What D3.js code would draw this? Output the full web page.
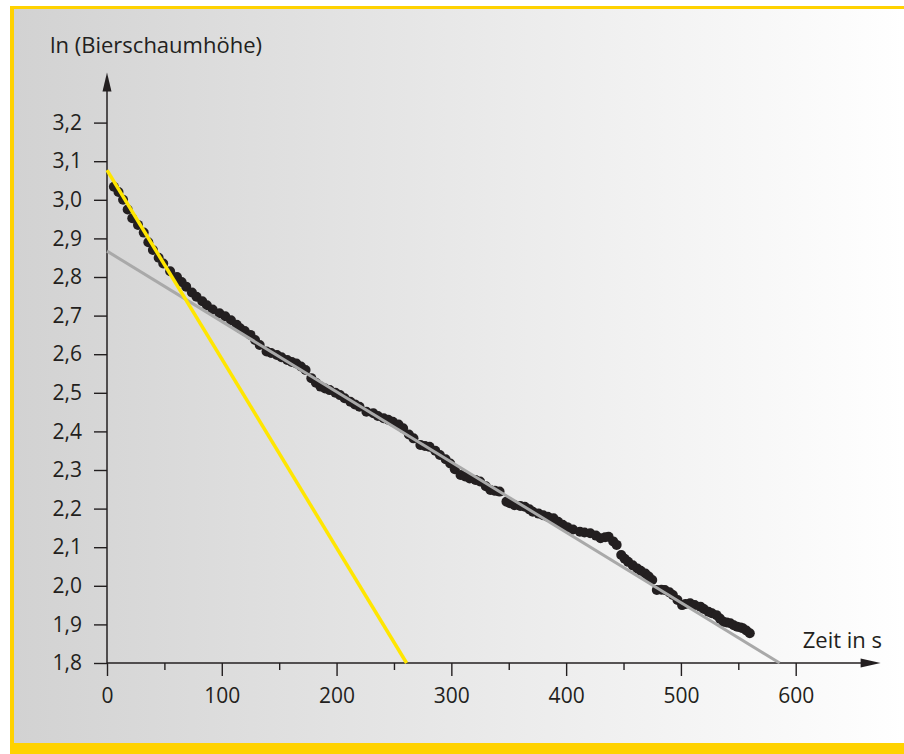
<!doctype html>
<html lang="de">
<head>
<meta charset="utf-8">
<title>ln (Bierschaumhöhe)</title>
<script src="https://d3js.org/d3.v7.min.js"></script>
<style>
    body { margin: 0; background: #fff; }
    text { font-family: "Open Sans", sans-serif; fill: #231f20; }
    .axis .domain { display: none; }
    .axis line { stroke: #231f20; stroke-width: 1.4; }
    .axis text { font-size: 21px; fill: #231f20; font-family: "Open Sans", sans-serif; }
</style>
</head>
<body>
<div id="chart"></div>
<script>
    // time in s
    const times = [6, 10, 14, 18, 22, 27, 32, 36, 40, 45, 49, 55, 61, 65, 69, 74, 78, 83, 87, 92, 98, 103, 108, 113,
        116, 120, 125, 129, 133, 139, 143, 148, 152, 157, 161, 165, 169, 173, 178, 182, 186, 190, 194, 199,
        203, 207, 212, 216, 220, 226, 232, 236, 241, 245, 249, 254, 258, 263, 267, 273, 277, 281, 286, 290,
        295, 299, 303, 308, 312, 316, 321, 325, 330, 334, 338, 342, 348, 351, 355, 360, 364, 368, 371, 376,
        380, 384, 389, 393, 397, 401, 406, 412, 416, 421, 426, 430, 434, 437, 441, 444, 448, 451, 454, 458,
        462, 465, 469, 472, 475, 479, 483, 486, 490, 493, 497, 501, 504, 508, 512, 517, 520, 524, 527, 531,
        534, 537, 540, 543, 546, 549, 552, 554, 557, 560];
    // ln of foam height
    const lnHeight = [3.034, 3.02, 3.0, 2.975, 2.952, 2.935, 2.915, 2.89, 2.87, 2.85, 2.835, 2.815, 2.80, 2.787, 2.775, 2.76, 2.749, 2.737, 2.727, 2.716, 2.706, 2.698, 2.688, 2.676,
        2.667, 2.66, 2.65, 2.637, 2.624, 2.607, 2.603, 2.598, 2.592, 2.585, 2.58, 2.576, 2.568, 2.559, 2.538, 2.526, 2.516, 2.511, 2.507, 2.5,
        2.494, 2.486, 2.477, 2.47, 2.464, 2.451, 2.447, 2.44, 2.434, 2.43, 2.425, 2.418, 2.408, 2.392, 2.382, 2.365, 2.362, 2.36, 2.35, 2.339,
        2.328, 2.317, 2.302, 2.287, 2.283, 2.278, 2.274, 2.27, 2.258, 2.248, 2.246, 2.244, 2.218, 2.214, 2.209, 2.207, 2.205, 2.198, 2.192, 2.187,
        2.183, 2.179, 2.175, 2.166, 2.158, 2.152, 2.146, 2.14, 2.138, 2.136, 2.13, 2.123, 2.126, 2.127, 2.115, 2.106, 2.08, 2.07, 2.062, 2.053,
        2.045, 2.039, 2.032, 2.024, 2.015, 1.989, 1.99, 1.989, 1.983, 1.976, 1.963, 1.95, 1.953, 1.955, 1.95, 1.946, 1.94, 1.933, 1.929, 1.924,
        1.915, 1.907, 1.905, 1.903, 1.898, 1.894, 1.892, 1.89, 1.884, 1.877];
    // fit lines: [t, ln] start and end
    const fastLine = [[0, 3.077], [261, 1.8]];
    const slowLine = [[0, 2.867], [586, 1.8]];
    const yTickValues = [1.8, 1.9, 2.0, 2.1, 2.2, 2.3, 2.4, 2.5, 2.6, 2.7, 2.8, 2.9, 3.0, 3.1, 3.2];
    const xTickValues = [0, 100, 200, 300, 400, 500, 600];
    const xMinorTicks = [50, 150, 250, 350, 450, 550];

    const W = 904, H = 754;
    const svg = d3.select("#chart").append("svg")
        .attr("width", W)
        .attr("height", H);

    const defs = svg.append("defs");
    const grad = defs.append("linearGradient")
        .attr("id", "bg")
        .attr("x1", "0%").attr("x2", "100%")
        .attr("y1", "0%").attr("y2", "0%");
    grad.append("stop").attr("offset", "0%").attr("stop-color", "#d2d2d2");
    grad.append("stop").attr("offset", "100%").attr("stop-color", "#ffffff");

    // frame
    svg.append("rect")
        .attr("x", 14).attr("y", 9)
        .attr("width", W - 14).attr("height", 734)
        .attr("fill", "url(#bg)");
    svg.append("rect").attr("x", 10).attr("y", 6).attr("width", W - 10).attr("height", 3).attr("fill", "#ffd200");
    svg.append("rect").attr("x", 10).attr("y", 6).attr("width", 4).attr("height", H - 6).attr("fill", "#ffd200");
    svg.append("rect").attr("x", 10).attr("y", 743).attr("width", W - 10).attr("height", 11).attr("fill", "#ffd200");

    const x = d3.scaleLinear().domain([0, 600]).range([107, 795.7]);
    const y = d3.scaleLinear().domain([1.8, 3.2]).range([663, 122.6]);

    const fmt = d => d3.format(".1f")(d).replace(".", ",");

    svg.append("g")
        .attr("class", "axis")
        .attr("transform", "translate(" + x(0) + ",0)")
        .call(d3.axisLeft(y).tickValues(yTickValues).tickFormat(fmt).tickSize(13).tickPadding(12));

    svg.append("g")
        .attr("class", "axis")
        .attr("transform", "translate(0," + y(1.8) + ")")
        .call(d3.axisBottom(x).tickValues(xTickValues).tickFormat(d3.format("d")).tickSize(13).tickPadding(12));

    svg.append("g")
        .attr("class", "axis")
        .attr("transform", "translate(0," + y(1.8) + ")")
        .call(d3.axisBottom(x).tickValues(xMinorTicks).tickFormat("").tickSize(7));

    // axis lines with arrows
    const xEnd = 674, yEnd = 3.33;
    svg.append("line")
        .attr("x1", x(0)).attr("x2", x(xEnd) - 10)
        .attr("y1", y(1.8)).attr("y2", y(1.8))
        .attr("stroke", "#231f20").attr("stroke-width", 1.5);
    svg.append("path")
        .attr("d", `M${x(xEnd)},${y(1.8)} L${x(xEnd) - 20},${y(1.8) - 4.5} L${x(xEnd) - 20},${y(1.8) + 4.5} Z`)
        .attr("fill", "#231f20");
    svg.append("line")
        .attr("x1", x(0)).attr("x2", x(0))
        .attr("y1", y(1.8)).attr("y2", y(yEnd) + 10)
        .attr("stroke", "#231f20").attr("stroke-width", 1.5);
    svg.append("path")
        .attr("d", `M${x(0)},${y(yEnd)} L${x(0) - 4.5},${y(yEnd) + 19} L${x(0) + 4.5},${y(yEnd) + 19} Z`)
        .attr("fill", "#231f20");

    const line = d3.line().x(d => x(d[0])).y(d => y(d[1]));

    svg.append("g")
        .selectAll("circle")
        .data(times)
        .enter().append("circle")
        .attr("cx", d => x(d))
        .attr("cy", (d, i) => y(lnHeight[i]))
        .attr("r", 5)
        .attr("fill", "#231f20");

    svg.append("path")
        .attr("d", line(slowLine))
        .attr("fill", "none")
        .attr("stroke", "#a9a9a9")
        .attr("stroke-width", 3);

    svg.append("path")
        .attr("d", line(fastLine))
        .attr("fill", "none")
        .attr("stroke", "#ffe600")
        .attr("stroke-width", 3.5);

    svg.append("text")
        .text("ln (Bierschaumhöhe)")
        .attr("x", 50).attr("y", 53)
        .attr("font-size", 22);

    svg.append("text")
        .text("Zeit in s")
        .attr("x", 882).attr("y", 648)
        .attr("text-anchor", "end")
        .attr("font-size", 22);
</script>
</body>
</html>
